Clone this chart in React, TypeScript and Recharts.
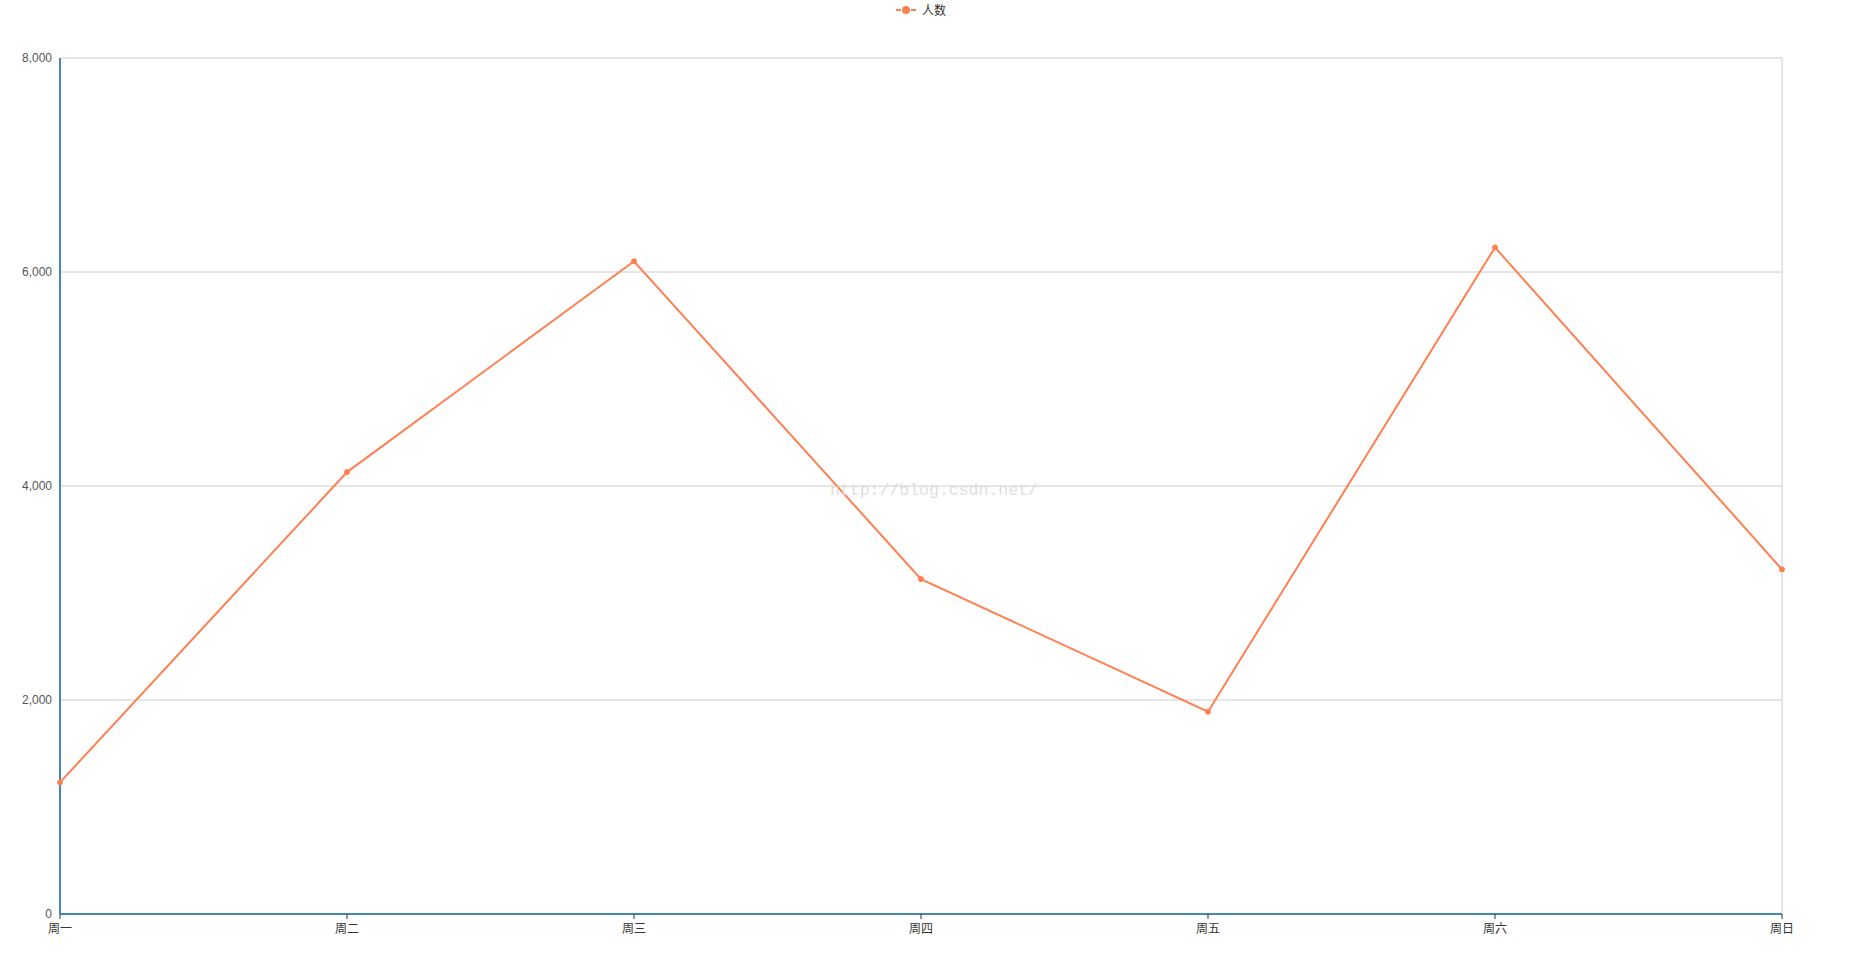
import { LineChart, Line, XAxis, YAxis, CartesianGrid, ReferenceLine } from "recharts"

document.body.style.margin = "0"

const days = ["周一", "周二", "周三", "周四", "周五", "周六", "周日"]
const people = [1230, 4130, 6100, 3130, 1890, 6230, 3220]
const yTicks = [0, 2000, 4000, 6000, 8000]

const data = days.map((day, i) => ({ day, people: people[i] }))

const W = 1851
const H = 959
const FONT = "'Liberation Sans', 'Noto Sans CJK SC', sans-serif"
const LINE = "#ff7f50"
const AXIS = "#4488bb"

function fmt(v: number): string {
  return v.toLocaleString("en-US")
}

function LegendBox() {
  return (
    <div
      style={{
        position: "absolute",
        top: 1,
        left: 896,
        display: "flex",
        alignItems: "center",
        fontFamily: FONT,
        fontSize: 12,
        color: "#333",
      }}
    >
      <svg width={20} height={14}>
        <line x1={0} y1={7} x2={5} y2={7} stroke={LINE} strokeWidth={2} />
        <line x1={15} y1={7} x2={20} y2={7} stroke={LINE} strokeWidth={2} />
        <circle cx={10} cy={7} r={4} fill={LINE} />
      </svg>
      <span style={{ marginLeft: 6 }}>人数</span>
    </div>
  )
}

export default function App() {
  return (
    <div style={{ position: "relative", width: W, height: H }}>
      <LineChart
        width={W}
        height={H}
        data={data}
        margin={{ top: 58, right: 69, bottom: 15, left: 0 }}
      >
        <CartesianGrid vertical={false} stroke="#ccc" />
        <ReferenceLine x="周日" stroke="#ccc" />
        <XAxis
          dataKey="day"
          scale="point"
          padding={{ left: 0, right: 0 }}
          height={30}
          axisLine={{ stroke: AXIS, strokeWidth: 2 }}
          tickLine={{ stroke: "#333" }}
          tickSize={5}
          tickMargin={5}
          tick={{ fontSize: 12, fill: "#333", fontFamily: FONT }}
          interval={0}
        />
        <YAxis
          domain={[0, 8000]}
          ticks={yTicks}
          width={60}
          tickFormatter={fmt}
          axisLine={{ stroke: AXIS, strokeWidth: 2 }}
          tickLine={false}
          tick={{ fontSize: 12, fill: "#555", fontFamily: FONT }}
        />
        <Line
          type="linear"
          dataKey="people"
          name="人数"
          stroke={LINE}
          strokeWidth={2}
          dot={{ r: 2.5, fill: LINE, stroke: LINE, strokeWidth: 1 }}
          isAnimationActive={false}
        />
      </LineChart>
      <LegendBox />
      <div
        style={{
          position: "absolute",
          left: 830,
          top: 481,
          fontFamily: "'Liberation Mono', monospace",
          fontSize: 16.5,
          color: "#dedede",
          whiteSpace: "nowrap",
        }}
      >
        http://blog.csdn.net/
      </div>
    </div>
  )
}
